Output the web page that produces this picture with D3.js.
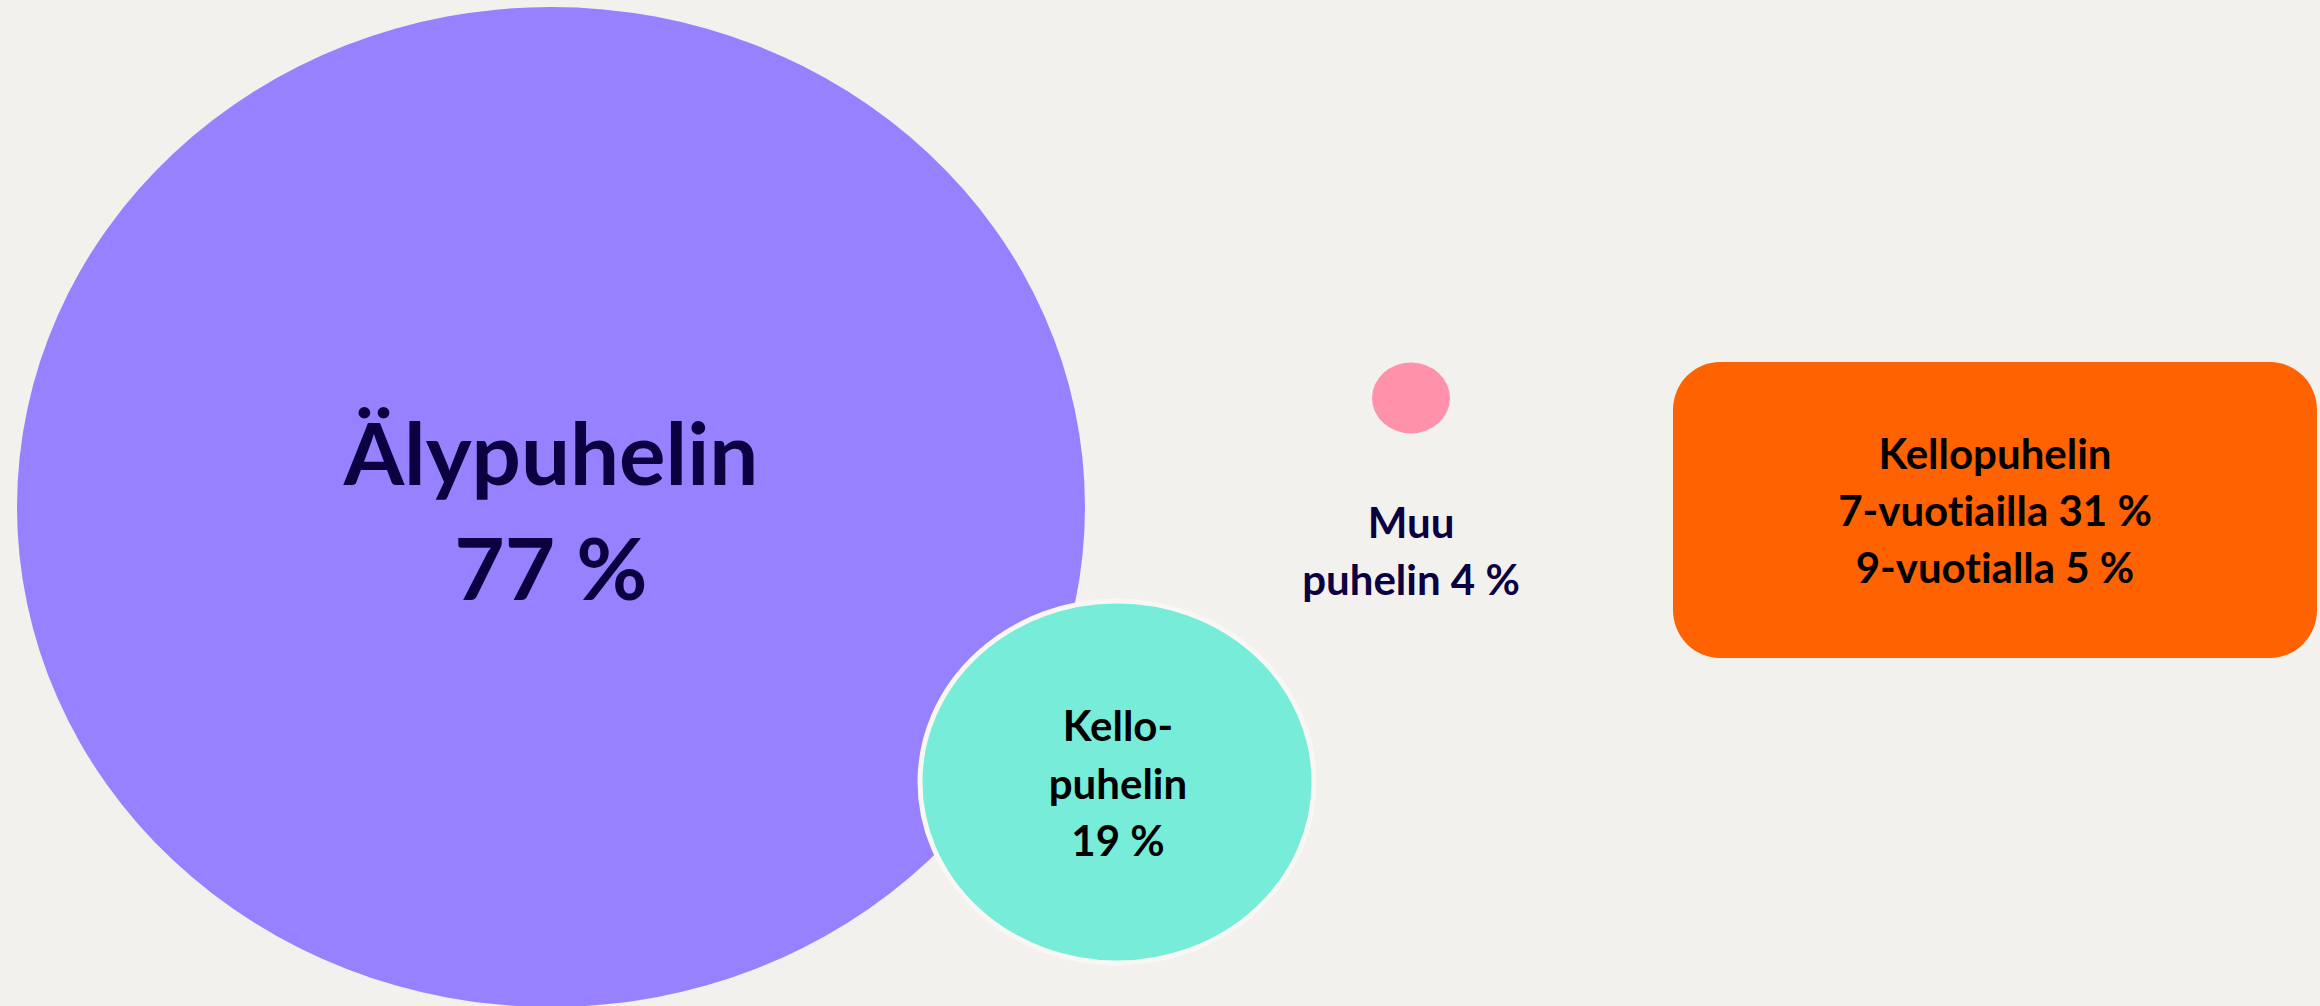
<!DOCTYPE html>
<html>
<head>
<meta charset="utf-8">
<script src="https://cdn.jsdelivr.net/npm/d3@7"></script>
<style>
  html, body { margin: 0; padding: 0; background: #f2f1ed; }
  svg { display: block; }
  text { font-family: Lato, "Open Sans", sans-serif; font-weight: 700; text-anchor: middle;
         font-variant-ligatures: none; font-feature-settings: "liga" 0, "clig" 0; }
</style>
</head>
<body>
<svg width="2320" height="1006"></svg>
<script>
// **** data ****
const categories = ['Älypuhelin', 'Kellopuhelin', 'Muu puhelin'];
const shares = [77, 19, 4];
const labelLines = [['Älypuhelin', '77 %'], ['Kello-', 'puhelin', '19 %'], ['Muu', 'puhelin 4 %']];
const boxTitle = 'Kellopuhelin';
const boxAges = ['7-vuotiailla', '9-vuotialla'];
const boxValues = [31, 5];

const colors = ['#9881ff', '#76ecd9', '#ff91aa'];
const textColors = ['#0b0040', '#000000', '#0b0040'];

// **** scales ****
const W = 2320, H = 1006;
const svg = d3.select('svg');

svg.append('rect').attr('width', W).attr('height', H).attr('fill', '#f2f1ed');

// bubble size, horizontal / vertical radius (shape is a little wider than tall)
const rxScale = d3.scaleLinear().domain([4, 19, 77]).range([39, 197, 534]);
const ryScale = d3.scaleLinear().domain([4, 19, 77]).range([35.5, 181, 500]);

const cxScale = d3.scaleOrdinal().domain(categories).range([551, 1117, 1411]);
const cyScale = d3.scaleOrdinal().domain(categories).range([507, 782, 398]);

// label position relative to bubble
const labelX = d3.scaleOrdinal().domain(categories).range([551, 1118, 1411]);
const labelY = d3.scaleOrdinal().domain(categories).range([485, 741, 538]);
const fontSize = d3.scaleOrdinal().domain(categories).range([87, 42, 42]);
const lineGap = d3.scaleOrdinal().domain(categories).range([115, 57.5, 57]);

const bubbles = categories.map((c, i) => ({ cat: c, value: shares[i], color: colors[i], lines: labelLines[i], tc: textColors[i] }));

svg.selectAll('ellipse.bubble')
  .data(bubbles)
  .enter()
  .append('ellipse')
  .attr('class', 'bubble')
  .attr('cx', d => cxScale(d.cat))
  .attr('cy', d => cyScale(d.cat))
  .attr('rx', d => rxScale(d.value))
  .attr('ry', d => ryScale(d.value))
  .attr('fill', d => d.color)
  .attr('stroke', d => d.cat === 'Kellopuhelin' ? '#f8f7f3' : 'none')
  .attr('stroke-width', 5);

bubbles.forEach(d => {
  const t = svg.append('text')
    .attr('x', labelX(d.cat))
    .attr('y', labelY(d.cat))
    .attr('fill', d.tc)
    .style('font-size', fontSize(d.cat) + 'px');
  d.lines.forEach((line, j) => {
    t.append('tspan')
      .attr('x', labelX(d.cat))
      .attr('y', labelY(d.cat) + j * lineGap(d.cat))
      .text(line);
  });
});

// **** orange box ****
const box = { x0: 1673, x1: 2317, y0: 362, y1: 658 };
svg.append('rect')
  .attr('x', box.x0)
  .attr('y', box.y0)
  .attr('width', box.x1 - box.x0)
  .attr('height', box.y1 - box.y0)
  .attr('rx', 47)
  .attr('ry', 48)
  .attr('fill', '#ff6200');

const boxText = svg.append('text')
  .attr('fill', '#000')
  .style('font-size', '42px');
const boxLines = [boxTitle].concat(boxAges.map((a, i) => `${a} ${boxValues[i]} %`));
boxText.selectAll('tspan')
  .data(boxLines)
  .enter()
  .append('tspan')
  .attr('x', (box.x0 + box.x1) / 2)
  .attr('y', (d, i) => 469 + i * 57)
  .text(d => d);
</script>
</body>
</html>
